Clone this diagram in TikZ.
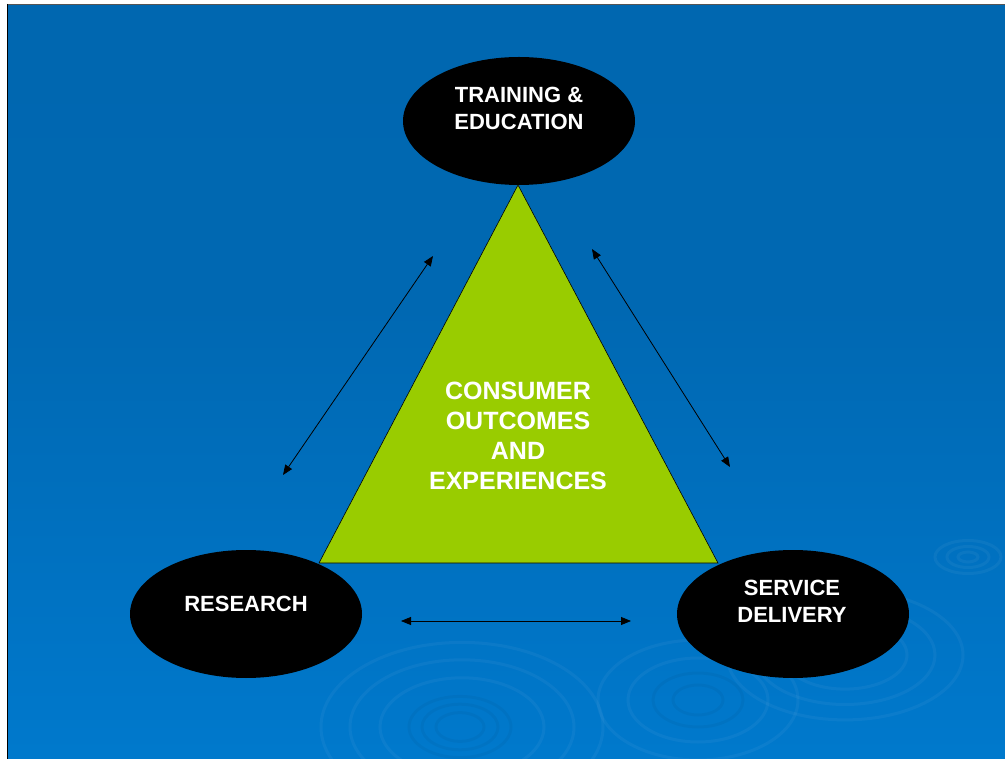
\documentclass[tikz,border=0pt]{standalone}
\usepackage{fontspec}
\setmainfont{Liberation Sans}
\usetikzlibrary{shapes.geometric,arrows.meta}
\definecolor{bgtop}{RGB}{0,102,173}
\definecolor{bgmid}{RGB}{0,104,178}
\definecolor{bglow}{RGB}{0,118,200}
\definecolor{bgbot}{RGB}{0,137,226}
\definecolor{trigreen}{RGB}{153,204,0}
\definecolor{topline}{RGB}{85,85,85}
\pgfdeclareverticalshading{bgshade}{100bp}{color(0bp)=(bgbot); color(30bp)=(bglow); color(55bp)=(bgmid); color(100bp)=(bgtop)}
\tikzset{
  blob/.style={ellipse, fill=black, draw=none, minimum width=232pt, minimum height=128pt, inner sep=0pt},
  blobtext/.style={text=white, font=\bfseries\fontsize{22}{27}\selectfont, align=center, inner sep=0pt},
  tritext/.style={text=white, font=\bfseries\fontsize{25}{30}\selectfont, align=center, inner sep=0pt},
  link/.style={draw=black, line width=0.8pt, {Triangle[length=10pt,width=8pt]}-{Triangle[length=10pt,width=8pt]}},
  ripple/.style={draw=white, draw opacity=0.045, line width=3pt},
  rippledark/.style={draw=black, draw opacity=0.035, line width=3pt}
}
\begin{document}
\begin{tikzpicture}[x=1pt,y=-1pt]
\useasboundingbox (0,0) rectangle (1005,759);
\fill[white] (0,0) rectangle (1005,759);
\shade[shading=bgshade] (8,5) rectangle (1005,759);
\draw[topline, line width=1.2pt] (7,4.6) -- (1005,4.6);
\draw[black, line width=1.2pt] (7.4,4) -- (7.4,759);
% ripples
\begin{scope}
\clip (8,5) rectangle (1005,759);
\foreach \r in {141,112,82} \draw[ripple] (462,727) ellipse[x radius=\r, y radius=0.6*\r];
\foreach \r in {51,38,24} \draw[rippledark] (460,727) ellipse[x radius=\r, y radius=0.6*\r];
\foreach \r in {100,70} \draw[ripple] (698,700) ellipse[x radius=\r, y radius=0.6*\r];
\foreach \r in {45,25} \draw[rippledark] (698,700) ellipse[x radius=\r, y radius=0.6*\r];
\foreach \r in {118,90,62} \draw[ripple] (845,655) ellipse[x radius=\r, y radius=0.55*\r];
\foreach \r in {33,21,10} \draw[ripple] (968,557) ellipse[x radius=\r, y radius=0.5*\r];
\end{scope}
% triangle
\coordinate (apex) at (518,185);
\coordinate (bl) at (319,563);
\coordinate (br) at (718,563);
\filldraw[fill=trigreen, draw=black, line width=0.6pt] (apex) -- (bl) -- (br) -- cycle;
% ellipses
\node[blob] (train) at (519,121) {};
\node[blob] (research) at (246,614) {};
\node[blob] (service) at (793,614) {};
% texts
\node[blobtext, anchor=north] (traintext) at (519,87) {TRAINING \&\\EDUCATION};
\node[blobtext, anchor=north] (researchtext) at (246,596) {RESEARCH};
\node[blobtext, anchor=north] (servicetext) at (792,580) {SERVICE\\DELIVERY};
\node[tritext, anchor=north] (center) at (518,382) {CONSUMER\\OUTCOMES\\AND\\EXPERIENCES};
% arrows
\coordinate (la) at (283,475);
\coordinate (lb) at (433,256);
\coordinate (ra) at (592,249);
\coordinate (rb) at (730,467);
\coordinate (ba) at (401,621);
\coordinate (bb) at (631,621);
\draw[link] (la) -- (lb);
\draw[link] (ra) -- (rb);
\draw[link] (ba) -- (bb);
\end{tikzpicture}
\end{document}
